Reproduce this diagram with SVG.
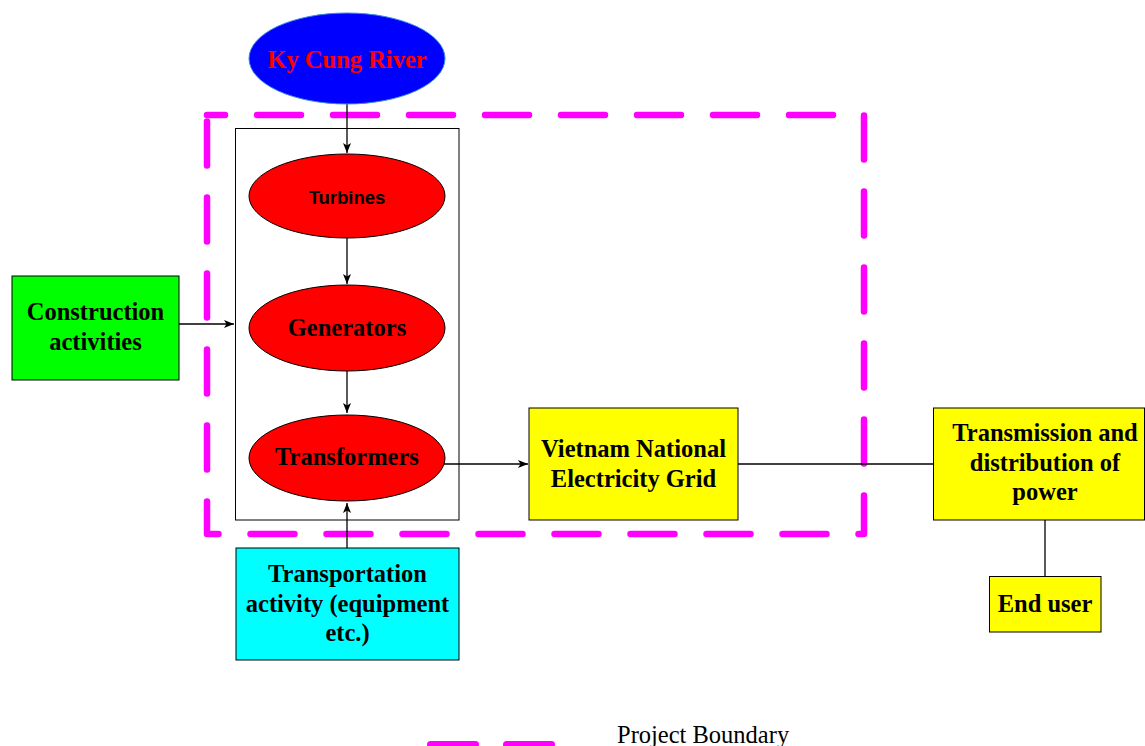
<svg xmlns="http://www.w3.org/2000/svg" width="1145" height="746" viewBox="0 0 1145 746">
<style>
.b{font-family:"Liberation Serif",serif;font-weight:bold;font-size:24.5px;text-anchor:middle;fill:#000}
.box{stroke:#000;stroke-width:1}
.ln{stroke:#000;stroke-width:1.3;fill:none}
.dash{stroke:#ff00ff;stroke-width:6.5;fill:none;stroke-dasharray:44 32;stroke-linecap:round;stroke-linejoin:round}
.ell{fill:#ff0000;stroke:#000;stroke-width:1}
</style>
<defs>
<marker id="ar" viewBox="0 0 10 10" refX="10" refY="5" markerWidth="10" markerHeight="10" markerUnits="userSpaceOnUse" orient="auto">
<path d="M0,1 L10,5 L0,9 L2.5,5 Z" fill="#000"/>
</marker>
</defs>
<rect width="1145" height="746" fill="#fff"/>
<g id="boundary">
<path class="dash" d="M207,115 H864" stroke-dashoffset="26"/>
<path class="dash" d="M207,115 V534 H864 V115" stroke-dashoffset="69.5"/>
</g>
<g id="container">
<rect x="235.5" y="128.5" width="223.5" height="391.5" fill="none" stroke="#000" stroke-width="1"/>
</g>
<g id="connectors">
<line class="ln" x1="347" y1="104" x2="347" y2="153" marker-end="url(#ar)"/>
<line class="ln" x1="347" y1="238" x2="347" y2="284" marker-end="url(#ar)"/>
<line class="ln" x1="347" y1="371" x2="347" y2="413" marker-end="url(#ar)"/>
<line class="ln" x1="347" y1="548" x2="347" y2="503" marker-end="url(#ar)"/>
<line class="ln" x1="179" y1="324" x2="234" y2="324" marker-end="url(#ar)"/>
<line class="ln" x1="444" y1="464" x2="528" y2="464" marker-end="url(#ar)"/>
<line class="ln" x1="738" y1="464" x2="933" y2="464"/>
<line class="ln" x1="1045" y1="520" x2="1045" y2="576"/>
</g>
<g id="river">
<ellipse cx="347" cy="58.5" rx="98" ry="45.5" fill="#0000ff" stroke="#3a8ee6" stroke-width="1"/>
<text class="b" x="347" y="67.5" style="fill:#ff0000">Ky Cung River</text>
</g>
<g id="turbines">
<ellipse class="ell" cx="347" cy="196" rx="98" ry="42"/>
<text x="347" y="203.5" style="font-family:'Liberation Sans',Arial,sans-serif;font-weight:bold;font-size:18.5px;text-anchor:middle">Turbines</text>
</g>
<g id="generators">
<ellipse class="ell" cx="347" cy="328" rx="98" ry="43"/>
<text class="b" x="347" y="336">Generators</text>
</g>
<g id="transformers">
<ellipse class="ell" cx="347" cy="458" rx="98" ry="43"/>
<text class="b" x="347" y="465">Transformers</text>
</g>
<g id="construction">
<rect class="box" x="12" y="276" width="167" height="104" fill="#00ff00"/>
<text class="b" x="95.5" y="320">Construction</text>
<text class="b" x="95.5" y="350">activities</text>
</g>
<g id="transportation">
<rect class="box" x="236" y="548" width="223" height="112" fill="#00ffff"/>
<text class="b" x="347.5" y="582">Transportation</text>
<text class="b" x="347.5" y="612">activity (equipment</text>
<text class="b" x="347.5" y="641">etc.)</text>
</g>
<g id="grid">
<rect class="box" x="529" y="408" width="209" height="112" fill="#ffff00"/>
<text class="b" x="633.5" y="457">Vietnam National</text>
<text class="b" x="633.5" y="487">Electricity Grid</text>
</g>
<g id="transmission">
<rect class="box" x="933.5" y="408" width="211" height="112" fill="#ffff00"/>
<text class="b" x="1045" y="441">Transmission and</text>
<text class="b" x="1045" y="471">distribution of</text>
<text class="b" x="1045" y="500">power</text>
</g>
<g id="enduser">
<rect class="box" x="989.5" y="576.5" width="111.5" height="55.5" fill="#ffff00"/>
<text class="b" x="1045" y="612">End user</text>
</g>
<g id="legend">
<line x1="430.5" y1="744.5" x2="475.5" y2="744.5" stroke="#ff00ff" stroke-width="7" stroke-linecap="round"/>
<line x1="506.5" y1="744.5" x2="551.5" y2="744.5" stroke="#ff00ff" stroke-width="7" stroke-linecap="round"/>
<text x="617" y="743" style="font-family:'Liberation Serif',serif;font-size:24.5px">Project Boundary</text>
</g>
</svg>
